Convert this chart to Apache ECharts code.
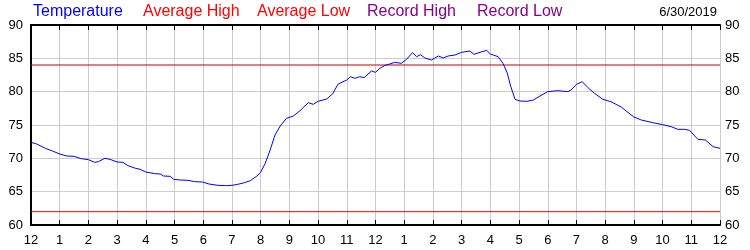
<!DOCTYPE html>
<html>
<head>
<meta charset="utf-8">
<script src="https://cdn.jsdelivr.net/npm/echarts@6/dist/echarts.min.js"></script>
<style>
  html, body { margin: 0; padding: 0; background: #fff; }
  #main { width: 750px; height: 250px; }
</style>
</head>
<body>
<div id="main"></div>
<script>
// hours since midnight and the temperature read at that moment
var hours = [0, 0.2, 0.5, 0.75, 1, 1.25, 1.5, 1.75, 2, 2.22, 2.35, 2.57, 2.75, 3, 3.2, 3.38, 3.61, 3.8, 4,
  4.31, 4.5, 4.62, 4.85, 4.97, 5.2, 5.47, 5.7, 5.97, 6.2, 6.51, 6.8, 7, 7.2, 7.4, 7.64, 7.87, 8,
  8.16, 8.33, 8.5, 8.68, 8.9, 9.14, 9.37, 9.66, 9.83, 10, 10.3, 10.5, 10.7, 11, 11.13, 11.28, 11.45,
  11.6, 11.86, 12, 12.15, 12.33, 12.5, 12.67, 12.9, 13.08, 13.29, 13.43, 13.57, 13.72, 13.95, 14.19,
  14.36, 14.53, 14.77, 15, 15.29, 15.43, 15.64, 15.87, 16, 16.27, 16.44, 16.59, 16.71, 16.86, 17.03,
  17.27, 17.5, 17.73, 18, 18.35, 18.7, 18.81, 19, 19.2, 19.4, 19.63, 19.92, 20.2, 20.38, 20.56,
  20.73, 21, 21.26, 21.66, 22, 22.3, 22.53, 22.77, 22.94, 23.23, 23.49, 23.76, 24];
var temps = [72.4, 72.15, 71.5, 71.1, 70.65, 70.35, 70.3, 69.95, 69.8, 69.4, 69.5, 70.0, 69.85, 69.45, 69.4, 68.9, 68.55, 68.35, 67.95,
  67.7, 67.65, 67.35, 67.3, 66.85, 66.75, 66.7, 66.5, 66.45, 66.15, 65.95, 65.9, 65.95, 66.1, 66.3, 66.65, 67.35, 67.9,
  69.25, 71.25, 73.5, 74.85, 76.0, 76.35, 77.15, 78.35, 78.1, 78.55, 78.9, 79.65, 81.15, 81.75, 82.25, 82.0, 82.25,
  82.1, 83.1, 82.9, 83.5, 83.95, 84.15, 84.4, 84.25, 84.85, 85.85, 85.25, 85.55, 85.05, 84.75, 85.35,
  85.05, 85.35, 85.5, 85.9, 86.1, 85.6, 85.9, 86.2, 85.65, 85.25, 84.25, 82.8, 80.8, 78.85, 78.6,
  78.55, 78.75, 79.35, 80.0, 80.15, 80.0, 80.25, 81.1, 81.5, 80.6, 79.75, 78.85, 78.5, 78.1, 77.7,
  77.1, 76.2, 75.75, 75.35, 75.05, 74.75, 74.35, 74.35, 74.2, 72.85, 72.75, 71.75, 71.5];
var avgHigh = 84;
var avgLow = 62;
var dayStart = 0, dayEnd = 24;
var legendNames = ['Temperature', 'Average High', 'Average Low', 'Record High', 'Record Low'];
var legendColors = ['#0000ff', '#ff0000', '#ff0000', '#880088', '#880088'];
var legendX = [33, 143, 257, 367, 477];
var dateText = '6/30/2019';

var font = '"Liberation Sans", Arial, sans-serif';
var myChart = echarts.init(document.getElementById('main'));

var tempData = hours.map(function (h, i) { return [h, temps[i]]; });

var graphics = legendNames.map(function (n, i) {
  return {
    type: 'text', left: legendX[i], top: 4,
    style: { text: n, fill: legendColors[i], font: '16px ' + font }
  };
});
graphics.push({
  type: 'text', right: 33, top: 6,
  style: { text: dateText, fill: '#000', font: '13px ' + font }
});

var option = {
  animation: false,
  backgroundColor: '#fff',
  grid: { left: 31, right: 30, top: 25, bottom: 25 },
  graphic: graphics,
  xAxis: [{
    type: 'value', min: 0, max: 24, interval: 1,
    axisLine: { lineStyle: { color: '#000', width: 2 } },
    axisTick: { inside: true, length: 5, lineStyle: { color: '#000' } },
    axisLabel: {
      color: '#000', fontSize: 13, fontFamily: font, margin: 9,
      formatter: function (v) { return (v % 12) || 12; }
    },
    splitLine: { show: true, lineStyle: { color: '#cccccc', width: 1 } }
  }, {
    type: 'value', min: 0, max: 24, interval: 1, position: 'top',
    axisLine: { lineStyle: { color: '#000', width: 2 } },
    axisTick: { inside: true, length: 5, lineStyle: { color: '#000' } },
    axisLabel: { show: false },
    splitLine: { show: false }
  }],
  yAxis: [{
    type: 'value', min: 60, max: 90, interval: 5,
    axisLine: { show: true, lineStyle: { color: '#000', width: 2 } },
    axisTick: { show: false },
    axisLabel: { color: '#000', fontSize: 13, fontFamily: font, margin: 8 },
    splitLine: { show: true, lineStyle: { color: '#cccccc', width: 1 } }
  }, {
    type: 'value', min: 60, max: 90, interval: 5, position: 'right',
    axisLine: { show: true, lineStyle: { color: '#000', width: 2 } },
    axisTick: { show: false },
    axisLabel: { color: '#000', fontSize: 13, fontFamily: font, margin: 5 },
    splitLine: { show: false }
  }],
  series: [{
    name: 'Average High', type: 'line', symbol: 'none',
    data: [[dayStart, avgHigh], [dayEnd, avgHigh]],
    lineStyle: { color: '#cc0000', width: 1 }
  }, {
    name: 'Average Low', type: 'line', symbol: 'none',
    data: [[dayStart, avgLow], [dayEnd, avgLow]],
    lineStyle: { color: '#ff0000', width: 1 }
  }, {
    name: 'Temperature', type: 'line', symbol: 'none',
    data: tempData,
    lineStyle: { color: '#0000ff', width: 1 }
  }]
};
myChart.setOption(option);
</script>
</body>
</html>
